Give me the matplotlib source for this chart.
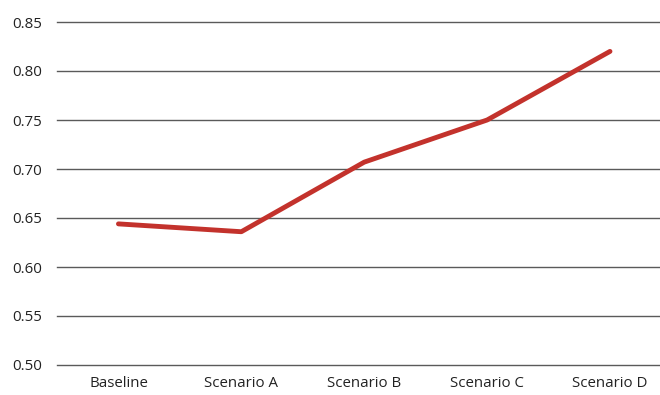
import matplotlib.pyplot as plt

categories = ['Baseline', 'Scenario A', 'Scenario B', 'Scenario C', 'Scenario D']
values = [0.644, 0.636, 0.707, 0.750, 0.820]
yticks = [0.50, 0.55, 0.60, 0.65, 0.70, 0.75, 0.80, 0.85]

plt.rcParams['font.family'] = ['Open Sans', 'DejaVu Sans']

fig = plt.figure(figsize=(6.6, 3.95), dpi=100)
ax = fig.add_axes([57 / 660, 1 - 365 / 395, 1 - 57 / 660, 343 / 395])

for y in yticks:
    ax.axhline(y, color='#5a5a5a', lw=1.0, zorder=1, clip_on=False)

ax.plot(range(len(categories)), values, color='#c3322c', lw=3.5,
        solid_capstyle='round', zorder=3)

ax.set_xlim(-0.5, 4.407)
ax.set_ylim(0.50, 0.85)
ax.set_yticks(yticks)
ax.set_yticklabels([f'{y:.2f}' for y in yticks])
ax.set_xticks(range(len(categories)))
ax.set_xticklabels(categories)
ax.tick_params(axis='both', length=0, labelsize=10.8, colors='#222222')
ax.tick_params(axis='y', pad=11)
ax.tick_params(axis='x', pad=8)
for s in ax.spines.values():
    s.set_visible(False)

fig.savefig('out.png', dpi=100)
